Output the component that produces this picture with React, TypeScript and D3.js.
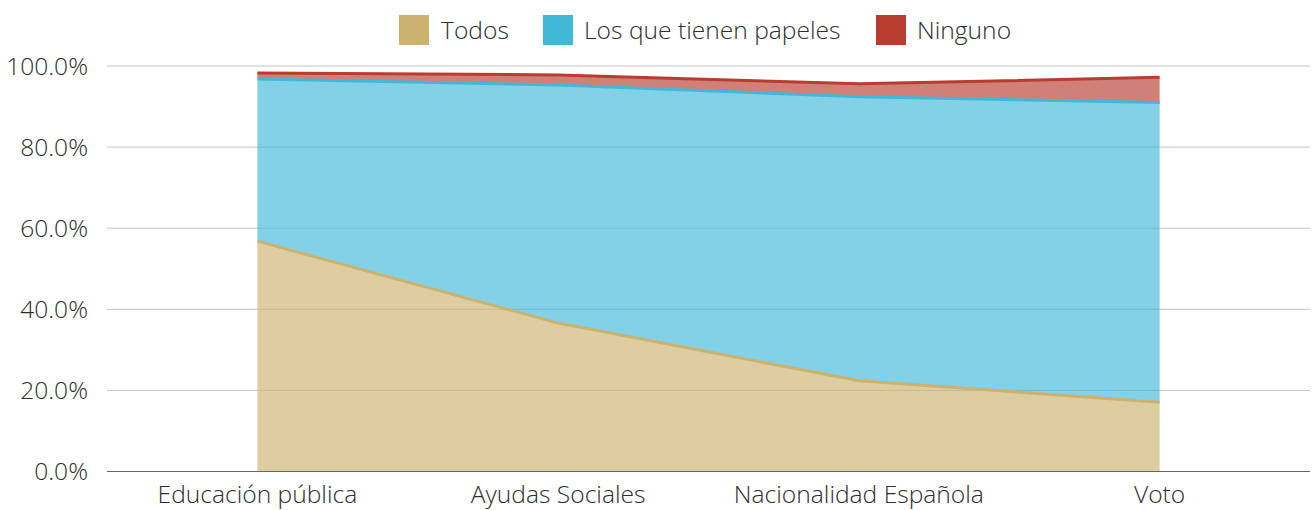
import React from "react";
import * as d3 from "d3";

const categories = ["Educación pública", "Ayudas Sociales", "Nacionalidad Española", "Voto"];
const todos = [56.8, 36.6, 22.4, 17.1];
const papeles = [40.0, 58.7, 70.0, 73.9];
const ninguno = [1.5, 2.5, 3.2, 6.2];
const seriesNames = ["Todos", "Los que tienen papeles", "Ninguno"];
const seriesColors = ["#cbb26f", "#41b8d8", "#b83c2f"];
const yTicks = [0, 20, 40, 60, 80, 100];

const W = 1312;
const H = 510;
const left = 107;
const right = 1310;
const top = 66;
const bottom = 471.5;
const FONT = "'Open Sans', sans-serif";
const FS = 24.6;

export default function App() {
  const rows = categories.map((c, i) => ({ cat: c, s0: todos[i], s1: papeles[i], s2: ninguno[i] }));
  const stack = d3.stack<any>().keys(["s0", "s1", "s2"]);
  const stacked = stack(rows);
  const x = d3.scalePoint<string>().domain(categories).range([left, right]).padding(0.5);
  const y = d3.scaleLinear().domain([0, 100]).range([bottom, top]);
  const area = d3
    .area<any>()
    .x((d) => x(d.data.cat) as number)
    .y0((d) => y(d[0]))
    .y1((d) => y(d[1]));
  const line = d3
    .line<any>()
    .x((d) => x(d.data.cat) as number)
    .y((d) => y(d[1]));

  const legendItems = [
    { sx: 399, tx: 441 },
    { sx: 543, tx: 584 },
    { sx: 876, tx: 917 },
  ];

  return (
    <svg
      width={W}
      height={H}
      style={{ position: "absolute", left: 0, top: 0, display: "block" }}
      fontFamily={FONT}
    >
      {yTicks.map((t) =>
        t === 0 ? null : (
          <line key={"g" + t} x1={left} x2={right} y1={y(t)} y2={y(t)} stroke="#c4c4c4" strokeWidth={1} />
        )
      )}
      {stacked.map((s, i) => (
        <path key={"a" + i} d={area(s) as string} fill={seriesColors[i]} fillOpacity={0.65} />
      ))}
      {stacked.map((s, i) => (
        <path key={"l" + i} d={line(s) as string} fill="none" stroke={seriesColors[i]} strokeWidth={3} strokeLinejoin="round" />
      ))}
      <line x1={left} x2={right} y1={y(0)} y2={y(0)} stroke="#666" strokeWidth={1} />
      {yTicks.map((t) => (
        <text
          key={"t" + t}
          x={88}
          y={y(t)}
          dy="0.35em"
          textAnchor="end"
          fontSize={FS}
          fontWeight={300}
          fill="#2e2e2e"
        >
          {t.toFixed(1) + "%"}
        </text>
      ))}
      {categories.map((c) => (
        <text
          key={c}
          x={x(c) as number}
          y={503}
          textAnchor="middle"
          fontSize={FS}
          fontWeight={300}
          fill="#2e2e2e"
        >
          {c}
        </text>
      ))}
      {seriesNames.map((n, i) => (
        <g key={n}>
          <rect x={legendItems[i].sx} y={15} width={30} height={30} fill={seriesColors[i]} />
          <text x={legendItems[i].tx} y={30} dy="0.35em" fontSize={FS} fontWeight={300} fill="#2e2e2e">
            {n}
          </text>
        </g>
      ))}
    </svg>
  );
}
